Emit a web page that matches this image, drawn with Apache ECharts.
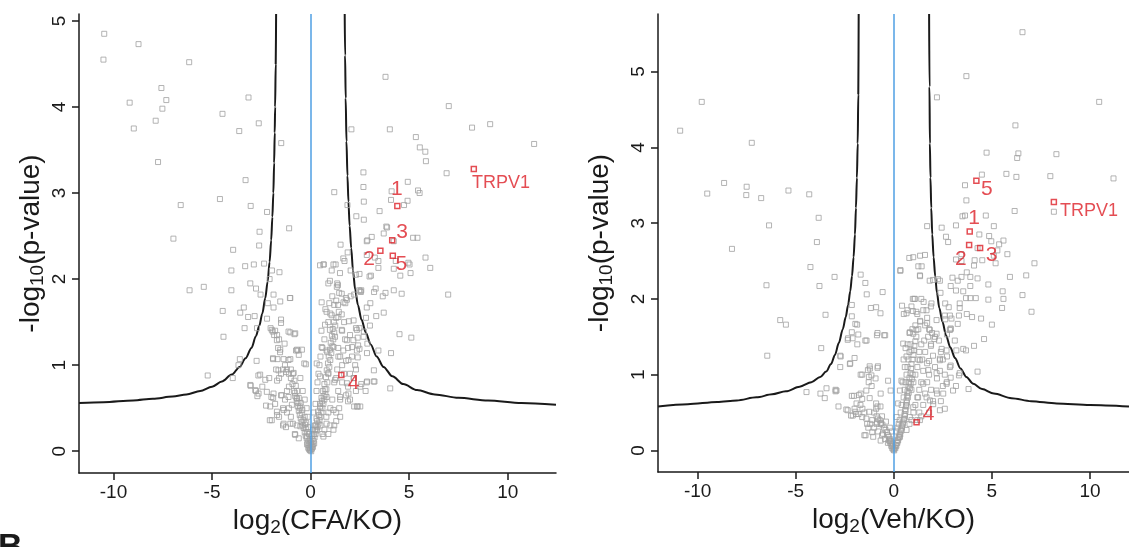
<!DOCTYPE html>
<html>
<head>
<meta charset="utf-8">
<script src="https://cdn.jsdelivr.net/npm/echarts@6/dist/echarts.min.js"></script>
<style>
  html, body { margin: 0; padding: 0; background: #fff; }
  #main { width: 1129px; height: 547px; }
</style>
</head>
<body>
<div id="main"></div>
<script>
'use strict';

// ---- data ----
var xTicks = [-10, -5, 0, 5, 10];
var cfaYTicks = [0, 1, 2, 3, 4, 5];
var vehYTicks = [0, 1, 2, 3, 4, 5];
var hitNames = ['1', '2', '3', '4', '5', 'TRPV1'];

// left panel: log2(CFA/KO)
var cfaOuter = [
    [-10.47,4.85],[-10.51,4.55],[-8.73,4.73],[-6.16,4.52],[-7.57,4.22],[-7.32,4.08],[-9.18,4.05],[-7.52,3.98],
    [-7.86,3.84],[-8.97,3.75],[-7.74,3.36],[-3.15,4.11],[-4.47,3.92],[-2.63,3.81],[-3.62,3.72],[-1.49,3.58],
    [-3.30,3.15],[-4.60,2.93],[-6.59,2.86],[-3.04,2.85],[-2.21,2.78],[-6.96,2.47],[-2.59,2.55],[-2.61,2.39],
    [-3.93,2.34],[-1.09,2.59],[-6.14,1.87],[-5.42,1.91],[-4.02,2.10],[-4.02,1.87],[-4.46,1.63],[-4.42,1.33],
    [-3.32,2.15],[-2.88,2.17],[-2.36,2.18],[-3.06,1.95],[-2.77,1.89],[-2.54,1.82],[-2.08,2.00],[-1.96,2.10],
    [-1.58,2.08],[-1.88,1.82],[-2.17,1.72],[-1.88,1.67],[-1.05,1.78],[-3.57,1.61],[-3.39,1.67],[-3.17,1.56],
    [-2.84,1.57],[-2.21,1.54],[-1.50,1.53],[-1.50,1.49],[-3.35,1.43],[-2.72,1.43],[-3.59,1.07],[-3.66,1.00],
    [-2.74,1.05],[-5.22,0.88],[-2.65,0.88],[-3.95,0.85],[-3.04,0.76],[-2.45,0.75],[-2.77,0.70],[-2.70,0.64],
    [-1.99,0.63],[-2.26,0.53],[-2.07,0.36],[-1.70,0.42],[-0.24,1.01],[-0.63,1.17],[-0.60,1.12],[-0.74,1.17],
    [-0.82,1.36],[-1.12,1.39],[-1.32,1.25],[-1.03,1.07],[-1.68,1.07],[-1.90,1.07],[-2.03,1.43],[-1.92,1.39],
    [3.80,4.35],[7.01,4.01],[8.19,3.76],[9.11,3.80],[11.34,3.57],[4.02,3.74],[2.07,3.74],[5.34,3.65],
    [5.54,3.53],[5.82,3.48],[5.85,3.37],[6.90,3.23],[2.68,3.24],[2.68,3.07],[1.20,3.01],[4.11,3.02],
    [4.93,3.13],[5.45,3.03],[5.53,3.00],[4.08,2.92],[4.92,2.91],[4.74,2.86],[2.70,2.90],[1.87,2.86],
    [3.50,2.79],[2.32,2.73],[2.70,2.69],[3.84,2.61],[3.88,2.60],[3.71,2.53],[3.10,2.49],[2.88,2.45],
    [2.85,2.44],[4.22,2.44],[5.20,2.48],[5.42,2.48],[1.52,2.40],[5.83,2.25],[6.07,2.13],[6.98,1.82],
    [2.85,2.28],[3.26,2.25],[3.44,2.21],[3.44,2.13],[4.32,2.21],[4.96,2.19],[5.02,2.17],[4.55,2.04],
    [5.07,2.07],[4.22,2.12],[4.22,1.87],[4.62,1.83],[4.51,1.36],[5.11,1.32],[4.08,1.14],[4.04,0.73],
    [3.24,0.81],[2.85,0.80],[2.57,0.78],[2.79,0.70],[2.39,0.52],[2.21,0.52],[1.90,0.58],[2.30,0.95],
    [3.21,0.94],[2.39,1.09],[3.44,1.17],[2.48,1.19],[2.85,1.67],[3.03,1.72],[3.22,1.85],[3.30,1.89],
    [3.80,1.84],[3.66,1.80],[3.33,1.57],[3.71,1.61],[2.81,1.55],[3.01,1.46],[2.48,1.43],[2.70,1.39],
    [2.30,1.43],[2.39,1.32],[2.88,1.25],[2.41,1.23],[2.17,1.29],[1.94,1.51],[1.43,1.62],[1.58,1.59],
    [1.39,1.70],[1.76,1.72],[1.79,1.78],[1.45,1.84],[1.39,1.93],[0.98,1.98],[1.27,2.17],[0.67,2.17],
    [1.07,2.10],[1.49,2.07],[2.03,2.10],[2.30,2.05],[2.48,2.06],[2.99,2.03],[3.06,2.04],[1.88,2.31],
    [1.72,2.21],[2.46,1.87],[2.57,1.87],[2.52,1.86],[2.55,1.85],[2.21,1.82],[2.03,1.80],[1.67,1.73]
];
var cfaCore = [
    [0,0.02],[0.05,0.05],[-0.05,0.04],[0.1,0.08],[-0.1,0.07],[0.15,0.12],[-0.15,0.1],[0.02,0.1],
    [-0.02,0.14],[0.2,0.16],[-0.2,0.15],[0.25,0.2],[-0.25,0.18],[0.08,0.18],[-0.08,0.2],[0.3,0.24],
    [-0.3,0.22],[0.35,0.28],[-0.35,0.27],[0.12,0.25],[-0.14,0.28],[0.4,0.32],[-0.4,0.3],[0.45,0.36],
    [-0.45,0.34],[0.22,0.3],[-0.22,0.33],[0.5,0.4],[-0.5,0.38],[0.3,0.38],[-0.3,0.4],[0.55,0.45],
    [-0.55,0.42],[0.6,0.5],[-0.6,0.47],[0.38,0.46],[-0.42,0.48],[0.65,0.55],[-0.65,0.52],[0.48,0.55],
    [-0.5,0.56],[0.7,0.6],[-0.7,0.58],[0.55,0.62],[-0.6,0.62],[0.75,0.66],[-0.78,0.64],[0.62,0.7],
    [-0.68,0.7],[0.8,0.72],[-0.85,0.7],[0.7,0.78],[-0.75,0.76],[0.85,0.8],[-0.92,0.78],[0.78,0.86],
    [-0.82,0.82],[0.9,0.9],[-1.0,0.85],[0.82,0.94],[-0.9,0.9],[0.95,0.98],[-1.1,0.9],[0.88,1.02],
    [-1.0,0.95],[1.0,1.06],[-1.2,0.95],[0.92,1.1],[1.05,1.14],[0.98,1.18],[1.1,1.22],[1.02,1.26],
    [1.15,1.3],[1.08,1.34],[1.2,1.38],[1.12,1.42],[1.25,1.46],[1.18,1.5],[1.3,1.55],[0.6,1.2],
    [0.7,1.3],[0.55,1.4],[0.5,1.1],[0.4,0.9],[0.45,1.0],[-0.4,0.7],[-0.3,0.6],[-0.2,0.5],
    [-0.15,0.4],[0.15,0.45],[0.25,0.55],[0.3,0.7],[0.35,0.8],[-1.3,1.0],[-1.4,0.95],[-1.5,0.9],
    [-1.6,0.85],[-1.7,0.82],[-1.3,0.6],[-1.1,0.5],[-1.0,0.4],[-0.9,0.32],[-1.2,0.45],[-1.4,0.5],
    [-1.5,0.65],[-1.2,0.7],[-1.1,0.75],[1.4,1.2],[1.5,1.1],[1.6,1.0],[1.35,0.95],[1.3,0.85],
    [1.2,0.8],[1.4,0.7],[1.5,0.6],[1.1,0.6],[1.0,0.5],[0.9,0.45],[0.8,0.4],[1.2,0.3],
    [1.3,0.35],[-1.6,1.3],[-1.7,1.35],[-1.8,1.4],[-1.65,1.2],[-1.55,1.15],[-1.75,0.95],[-2.1,0.85],
    [-1.9,0.62],[-1.8,0.55],[-1.6,0.4],[-1.4,0.3],[-1.25,0.28],[-0.7,0.3],[-0.8,0.2],[-0.6,0.15],
    [0.6,0.2],[0.7,0.25],[0.9,0.2],[1.0,0.3],[0.5,0.3],[1.6,1.4],[1.7,1.5],[1.75,1.3],
    [2.0,1.35],[1.9,1.2],[2.1,1.1],[1.8,1.05],[1.7,0.9],[2.0,0.9],[2.2,0.85],[1.9,0.75],
    [2.3,0.7],[2.0,0.6],[1.8,0.65],[1.6,0.8],[1.45,0.5],[1.3,0.45],[0.85,1.15],[0.9,1.5],
    [1.0,1.6],[0.75,1.65],[1.2,1.7],[1.3,1.75],[0.95,1.72],[1.1,1.8],[1.35,1.95],
    [0.03,0.0],[-0.03,0.01],[0.07,0.03],[-0.07,0.02],[0.12,0.05],[-0.12,0.04],[0.18,0.09],[-0.18,0.08],
    [0.04,0.07],[-0.04,0.09],[0.1,0.14],[-0.1,0.12],[0.16,0.2],[-0.17,0.22],[0.22,0.25],[-0.24,0.26],
    [0.28,0.3],[-0.28,0.31],[0.33,0.35],[-0.36,0.36],[0.42,0.42],[-0.45,0.44],[0.5,0.5],[-0.55,0.5],
    [0.58,0.58],[-0.62,0.56],[0.66,0.64],[-0.72,0.62],[0.72,0.72],[-0.8,0.68],
    [-1.54,1.74],[-1.03,1.78],[-1.97,1.41],[-1.85,1.35],[-1.71,1.29],[-1.03,1.38],[-0.78,1.37],[-1.54,1.18],
    [-1.91,1.08],[-1.37,1.07],[-1.12,1.06],[-0.69,1.18],[-0.44,1.18],[-0.32,1.02],[-1.63,0.94],[-1.24,0.92],
    [-0.86,0.91],[-0.52,0.85],[-2.56,0.89],[-2.30,0.83],[-3.06,0.77],[-2.81,0.71],[-2.64,0.67],[-2.22,0.69],
    [-1.88,0.67],[-1.46,0.65],[-1.12,0.63],[-0.69,0.61],[-2.05,0.52],[-1.71,0.46],[-1.37,0.48],[-0.95,0.54],
    [-0.52,0.52],[-1.97,0.36],[-1.37,0.32],[-1.03,0.32],[-0.52,0.29],[-0.78,0.19],[-0.19,0.17],
    [0.48,2.16],[0.65,2.17],[1.16,2.17],[1.66,2.24],[0.90,1.95],[1.33,1.91],[1.58,1.83],[1.84,1.76],
    [0.56,1.73],[0.81,1.62],[1.07,1.58],[1.41,1.56],[0.73,1.47],[0.98,1.41],[1.24,1.33],[1.58,1.41],
    [1.84,1.29],[2.18,1.52],[2.35,1.41],[2.69,1.33],[2.10,1.21],[2.35,1.17],[2.86,1.14],[0.56,1.21],
    [0.81,1.17],[1.16,1.21],[1.41,1.10],[1.66,1.17],[1.92,1.06],[2.26,1.00],[0.31,1.02],[0.48,0.87],
    [0.90,0.91],[1.24,0.83],[1.84,0.79],[2.18,0.85],[2.52,0.75],[2.86,0.81],[3.20,0.81],[1.92,0.67],
    [2.35,0.52],[2.52,0.52],[1.50,0.63],[0.81,0.63],[0.48,0.52],[1.16,0.48],[1.50,0.40],[0.81,0.32],
    [0.31,0.25],[0.65,0.17],[1.16,0.25]
];
var cfaHits = [[4.40,2.85],[3.54,2.33],[4.14,2.45],[1.56,0.885],[4.17,2.27],[8.28,3.28]];
var cfaLabelPos = [[4.38,3.04],[2.97,2.23],[4.64,2.55],[2.18,0.79],[4.60,2.17],[8.19,3.12]];
var cfaCurveNeg = [
    [-11.75,0.56],[-10.5,0.57],[-9,0.59],[-8,0.61],[-7,0.635],[-6.3,0.66],[-5.6,0.7],[-5.0,0.75],
    [-4.5,0.81],[-4.0,0.89],[-3.6,0.98],[-3.3,1.08],[-3.0,1.2],[-2.77,1.34],[-2.6,1.46],[-2.45,1.6],
    [-2.3,1.78],[-2.18,1.97],[-2.08,2.2],[-2.0,2.45],[-1.94,2.72],[-1.89,3.0],[-1.85,3.35],[-1.82,3.7],
    [-1.8,4.0],[-1.77,4.5],[-1.75,5.08]
];
var cfaCurvePos = [
    [1.73,5.08],[1.75,4.6],[1.78,4.1],[1.82,3.6],[1.87,3.2],[1.92,2.9],[1.98,2.62],[2.06,2.36],
    [2.15,2.1],[2.26,1.88],[2.4,1.7],[2.58,1.53],[2.8,1.38],[3.05,1.24],[3.35,1.1],[3.7,0.98],
    [4.15,0.87],[4.7,0.78],[5.4,0.71],[6.3,0.66],[7.5,0.62],[9,0.59],[10.7,0.56],[12.45,0.54]
];

// right panel: log2(Veh/KO)
var vehOuter = [
    [6.56,5.52],[3.70,4.94],[2.20,4.66],[10.47,4.60],[-9.79,4.60],[-10.89,4.22],[-7.24,4.06],[6.20,4.29],
    [6.35,3.92],[6.29,3.86],[4.73,3.93],[8.29,3.91],[4.49,3.64],[5.74,3.65],[6.25,3.61],[7.98,3.62],
    [11.20,3.59],[3.63,3.50],[3.70,3.30],[6.16,3.16],[8.16,3.15],[3.50,3.09],[3.63,3.10],[4.69,3.10],
    [1.70,2.96],[2.44,2.94],[3.17,2.97],[4.36,2.85],[4.86,2.83],[5.10,2.96],[2.66,2.82],[2.77,2.75],
    [5.59,2.77],[5.37,2.72],[5.79,2.59],[7.17,2.47],[5.19,2.47],[5.92,2.29],[6.75,2.31],[6.56,2.05],
    [7.02,1.83],[5.52,1.88],[5.55,2.10],[5.59,2.00],[4.97,2.76],[4.51,2.51],[4.82,2.19],[4.82,1.99],
    [4.45,1.74],[5.00,1.66],[4.60,1.47],[4.09,1.38],[3.68,1.32],[4.27,1.04],[3.81,0.81],[3.32,0.99],
    [3.17,0.85],[2.90,1.12],[2.90,0.96],
    [-8.65,3.53],[-9.51,3.39],[-7.50,3.48],[-7.52,3.37],[-6.76,3.33],[-5.37,3.43],[-4.31,3.38],[-6.36,2.97],
    [-3.83,3.07],[-8.25,2.66],[-3.92,2.75],[-4.25,2.42],[-3.02,2.29],[-3.79,2.17],[-6.49,2.18],[-5.79,1.72],
    [-5.50,1.66],[-6.45,1.25],[-3.70,1.35],[-3.48,1.79],[-1.69,2.32],[-1.45,2.21],[-1.38,2.06],[-0.57,2.09],
    [-1.17,1.88],[-0.90,1.89],[-0.68,1.81],[-2.14,1.92],[-2.14,1.77],[-1.87,1.66],[-2.14,1.56],[-2.33,1.48],
    [-1.81,1.53],[-1.45,1.45],[-2.73,1.25],[-2.73,1.10],[-2.24,1.14],[-2.00,1.22],[-1.23,1.11],[-0.81,1.11],
    [-1.69,1.00],[-1.14,0.99],[-1.28,0.90],[-1.40,0.79],[-1.78,0.73],[-2.14,0.72],[-2.97,0.80],[-2.97,0.78],
    [-3.43,0.82],[-3.74,0.75],[-4.45,0.77],[-3.52,0.69],[-2.82,0.58],[-2.42,0.54],[-1.96,0.51],[-2.09,0.46],
    [-1.23,0.69],[-0.90,0.62],[-0.68,0.58],[-1.50,0.20],[-0.93,0.95],[-0.86,1.52],[-0.49,1.52],[-1.32,1.06],
    [-0.68,0.35],[-1.96,1.67],[-2.35,1.46],[-2.10,1.48],[-1.39,1.45],[-0.83,1.55],[-0.44,1.52],[-1.86,1.40],
    [-2.71,1.24],[-2.22,1.15],[-1.22,1.08],[-0.83,1.09],[-1.61,1.00],[-1.27,0.97],[-0.29,0.92],[-1.13,0.85],
    [-2.92,0.79],[-1.61,0.68],[-2.03,0.72],[-1.69,0.75],[-0.67,0.75],[-0.16,0.79],[-2.35,0.53],[-1.92,0.48],
    [-2.18,0.46],[-1.25,0.51],[-0.83,0.58],[-1.61,0.44],[-1.36,0.35],[-0.86,0.37],[-1.44,0.20],[-0.67,0.13],
    [-1.10,0.24],
    [0.33,2.37],[0.79,2.54],[1.34,2.57],[1.25,2.43],[1.34,2.30],[0.97,2.00],[1.83,2.24],[2.25,2.26],
    [2.38,2.08],[2.80,1.89],[2.86,1.78],[2.99,2.28],[3.26,2.24],[3.45,2.29],[3.72,2.35],[3.90,2.29],
    [4.27,2.27],[3.90,2.17],[3.54,2.10],[3.68,2.01],[3.36,1.94],[3.36,1.88],[3.90,2.01],[4.18,2.01],
    [3.32,1.78],[3.72,1.80],[3.99,1.76],[3.26,1.67],[2.90,1.60],[2.71,1.53],[3.54,1.34],[2.44,1.34],
    [2.35,1.21],[1.80,1.18],[2.71,1.24],[2.07,1.47],[1.89,1.38],[0.42,1.91],[0.51,1.80],[0.97,1.84],
    [1.52,1.96],[1.89,1.90],[1.34,1.71],[1.70,1.68],[2.62,1.73],[2.62,1.94],[2.90,1.61],[4.12,2.51],
    [4.09,2.44],[5.10,2.57],[5.28,2.64],[3.45,2.59],[4.27,2.67],[3.17,2.52],[3.45,2.50],[3.17,2.11],
    [2.90,2.17]
];
var vehCore = [
    [0,0.02],[0.05,0.04],[-0.05,0.05],[0.1,0.07],[-0.1,0.08],[0.15,0.1],[-0.15,0.12],[0.2,0.14],
    [-0.2,0.15],[0.25,0.18],[-0.25,0.18],[0.3,0.22],[-0.3,0.2],[0.35,0.27],[-0.35,0.24],[0.4,0.32],
    [-0.42,0.27],[0.45,0.37],[-0.5,0.3],[0.5,0.42],[-0.58,0.34],[0.55,0.48],[-0.65,0.36],[0.58,0.54],
    [-0.72,0.4],[0.62,0.6],[-0.8,0.42],[0.65,0.66],[-0.88,0.45],[0.68,0.72],[0.7,0.78],[0.75,0.84],
    [0.78,0.9],[0.8,0.96],[0.85,1.02],[0.88,1.08],[0.9,1.14],[0.95,1.2],[1.0,1.26],[1.02,1.32],
    [1.05,1.38],[1.1,1.44],[1.15,1.5],[0.5,0.7],[0.55,0.8],[0.6,0.9],[0.65,1.0],[0.7,1.1],
    [0.75,1.2],[0.8,1.3],[0.85,1.4],[0.9,0.8],[1.0,0.9],[1.1,1.0],[1.2,1.1],[1.25,1.2],
    [1.3,1.3],[1.4,1.4],[1.45,1.2],[1.5,1.05],[1.4,0.9],[1.3,0.8],[1.2,0.7],[1.1,0.6],
    [1.0,0.5],[0.9,0.4],[0.8,0.35],[1.5,0.6],[1.6,0.75],[1.7,0.9],[1.8,1.0],[1.7,1.15],
    [1.6,1.3],[1.55,1.45],[1.75,1.5],[1.9,1.4],[2.0,1.25],[2.1,1.1],[2.2,0.95],[1.9,0.8],
    [2.0,0.65],[1.3,0.5],[1.2,0.4],[1.4,0.45],[0.4,0.6],[0.45,0.9],[0.35,0.5],[0.3,0.4],
    [0.2,0.3],[0.12,0.25],[0.25,0.35],[-0.1,0.25],[-0.2,0.3],[-0.4,0.38],[-0.6,0.45],[-0.9,0.55],
    [-1.0,0.5],[-1.1,0.4],[-1.2,0.35],[-1.3,0.3],[-1.0,0.3],[-0.8,0.25],[-0.6,0.2],[-0.45,0.15],
    [-0.3,0.1],[-1.4,0.42],[-1.5,0.5],[-1.6,0.55],[-1.7,0.6],[-1.9,0.62],[-2.0,0.55],[-1.8,0.48],
    [0.5,1.2],[0.6,1.35],[0.7,1.4],[0.8,1.55],[0.95,1.6],[1.1,1.65],[1.25,1.6],[1.35,1.7],
    [1.2,1.8],[1.5,1.85],[1.6,1.65],[0.9,1.9],[1.05,2.0],[0.7,1.85],[1.4,2.0],[1.7,1.75],
    [1.8,1.6],[1.95,1.55],[2.1,1.5],[2.3,1.45],[2.4,1.3],[2.5,1.2],[2.35,1.05],[2.6,1.0],
    [2.7,0.9],[2.5,0.85],[2.2,0.75],[2.4,0.65],[2.6,0.55],[1.8,0.5],
    [0.02,0.0],[-0.02,0.01],[0.08,0.03],[-0.08,0.03],[0.13,0.06],[-0.13,0.06],[0.18,0.1],[-0.18,0.1],
    [0.22,0.13],[-0.24,0.13],[0.28,0.17],[0.33,0.21],[0.38,0.26],[0.42,0.3],[0.47,0.35],[0.52,0.4],
    [0.56,0.46],[0.6,0.52],[0.64,0.58],[0.67,0.63],[0.72,0.7],[0.76,0.76],[0.82,0.82],[0.86,0.88],
    [0.92,0.94],[0.96,1.0],
    [0.99,2.55],[1.59,2.58],[1.42,2.43],[0.34,2.38],[1.33,2.31],[2.00,2.25],[2.35,2.24],[1.07,2.00],
    [1.15,1.83],[1.67,1.85],[1.92,1.94],[0.65,1.81],[2.18,1.72],[2.60,1.78],[2.94,1.74],[1.84,1.59],
    [2.18,1.54],[2.86,1.59],[0.82,1.56],[1.15,1.59],[3.11,1.45],[2.69,1.32],[3.19,1.32],[2.35,1.19],
    [2.86,1.10],[3.36,1.02],[2.18,1.02],[2.69,0.88],[2.18,0.79],[2.52,0.75],[3.02,0.79],[1.84,0.66],
    [2.35,0.53],[0.99,1.54],[0.48,1.41],[0.65,1.24],[0.56,1.10],[0.39,0.92],[0.31,0.79],[0.22,0.62],
    [0.14,0.44],[0.90,1.32],[1.33,1.19],[1.76,1.06],[1.50,0.88],[1.24,0.70],[0.99,0.57],[1.67,0.70],
    [2.01,0.61],[0.82,0.44],[1.33,0.40],[0.65,0.27],[0.31,0.18],[-0.21,0.13],[-0.55,0.22],[-0.88,0.35],
    [-1.05,0.18]
];
var vehHits = [[3.87,2.89],[3.84,2.71],[4.40,2.67],[1.16,0.37],[4.21,3.56],[8.16,3.28]];
var vehLabelPos = [[4.09,3.06],[3.42,2.53],[4.98,2.58],[1.77,0.48],[4.74,3.45],[8.47,3.16]];
var vehCurveNeg = [
    [-12.02,0.58],[-10.5,0.61],[-9,0.64],[-8,0.66],[-7,0.7],[-6.2,0.74],[-5.5,0.78],[-4.8,0.84],
    [-4.2,0.9],[-3.75,0.97],[-3.45,1.04],[-3.2,1.14],[-3.0,1.26],[-2.8,1.42],[-2.6,1.6],[-2.45,1.76],
    [-2.33,1.92],[-2.22,2.1],[-2.13,2.3],[-2.05,2.55],[-1.98,2.85],[-1.93,3.2],[-1.88,3.6],[-1.84,4.05],
    [-1.81,4.7],[-1.79,5.76]
];
var vehCurvePos = [
    [1.8,5.76],[1.82,4.8],[1.84,4.05],[1.87,3.6],[1.91,3.2],[1.96,2.85],[2.03,2.55],[2.11,2.3],
    [2.2,2.08],[2.32,1.88],[2.48,1.7],[2.66,1.52],[2.88,1.36],[3.12,1.22],[3.4,1.08],[3.7,0.97],
    [4.05,0.88],[4.5,0.81],[5.1,0.75],[6,0.69],[7,0.65],[8.3,0.62],[10,0.6],[11.99,0.58]
];

// ---- styling ----
var FONT = '"Liberation Sans", Arial, sans-serif';
var INK = '#1a1a1a';
var GRAY = '#a0a0a0';
var RED = '#dd2128';
var BLUE = '#4f9fe3';

function nameRich() {
    return {
        t: { fontFamily: FONT, fontSize: 28, color: INK, lineHeight: 32 },
        s: { fontFamily: FONT, fontSize: 19, color: INK, lineHeight: 10, verticalAlign: 'bottom' }
    };
}

function xAxisFor(gridIndex, min, max, ratio) {
    return {
        type: 'value', gridIndex: gridIndex, min: min, max: max,
        axisLine: { onZero: false, lineStyle: { color: INK, width: 1.5 } },
        axisTick: { length: 7, customValues: xTicks, lineStyle: { color: INK, width: 1.5 } },
        axisLabel: { customValues: xTicks, fontSize: 19, color: INK, fontFamily: FONT, margin: 10 },
        splitLine: { show: false },
        name: '{t|log}{s|2}{t|(' + ratio + ')}',
        nameLocation: 'middle', nameGap: 31,
        nameTextStyle: { rich: nameRich() }
    };
}

function yAxisFor(gridIndex, min, max, ticks, gap) {
    return {
        type: 'value', gridIndex: gridIndex, min: min, max: max,
        axisLine: { onZero: false, lineStyle: { color: INK, width: 1.5 } },
        axisTick: { length: 7, customValues: ticks, lineStyle: { color: INK, width: 1.5 } },
        axisLabel: { customValues: ticks, fontSize: 19, color: INK, fontFamily: FONT, margin: 10, rotate: 90 },
        splitLine: { show: false },
        name: '{t|-log}{s|10}{t|(p-value)}',
        nameLocation: 'middle', nameGap: gap, nameRotate: 90,
        nameTextStyle: { rich: nameRich() }
    };
}

function curve(idx, data, withZeroLine) {
    var s = {
        type: 'line', xAxisIndex: idx, yAxisIndex: idx, data: data,
        showSymbol: false, silent: true, z: 2,
        smooth: 0.3, smoothMonotone: 'x',
        lineStyle: { color: INK, width: 2 }
    };
    if (withZeroLine) {
        s.markLine = {
            silent: true, symbol: 'none', label: { show: false },
            lineStyle: { color: BLUE, width: 1.5, type: 'solid' },
            data: [{ xAxis: 0 }]
        };
    }
    return s;
}

function dots(idx, data, color, width, z) {
    return {
        type: 'scatter', xAxisIndex: idx, yAxisIndex: idx, data: data,
        symbol: 'rect', symbolSize: 5, silent: true, z: z,
        itemStyle: { color: 'rgba(0,0,0,0)', borderColor: color, borderWidth: width }
    };
}

function labels(idx, pos) {
    var items = pos.map(function (p, i) {
        var item = { value: p, name: hitNames[i] };
        if (hitNames[i] === 'TRPV1') {
            item.label = { align: 'left', fontSize: 18 };
        }
        return item;
    });
    return {
        type: 'scatter', xAxisIndex: idx, yAxisIndex: idx, data: items,
        symbolSize: 0, silent: true, z: 6,
        label: {
            show: true, position: 'inside', formatter: '{b}',
            color: RED, fontSize: 21, fontFamily: FONT
        }
    };
}

var chart = echarts.init(document.getElementById('main'), null, { renderer: 'canvas' });

chart.setOption({
    animation: false,
    backgroundColor: '#fff',
    grid: [
        { left: 79, top: 14, width: 477, height: 459 },
        { left: 658, top: 14, width: 471, height: 458 }
    ],
    xAxis: [
        xAxisFor(0, -11.75, 12.45, 'CFA/KO'),
        xAxisFor(1, -12.02, 11.99, 'Veh/KO')
    ],
    yAxis: [
        yAxisFor(0, -0.253, 5.08, cfaYTicks, 32),
        yAxisFor(1, -0.285, 5.76, vehYTicks, 42)
    ],
    graphic: [
        { type: 'text', left: -2, top: 531, style: { text: 'B', font: 'bold 34px ' + FONT, fill: INK } }
    ],
    series: [
        curve(0, cfaCurveNeg, true),
        curve(0, cfaCurvePos, false),
        dots(0, cfaOuter.concat(cfaCore), GRAY, 1, 3),
        dots(0, cfaHits, RED, 1.5, 5),
        labels(0, cfaLabelPos),

        curve(1, vehCurveNeg, true),
        curve(1, vehCurvePos, false),
        dots(1, vehOuter.concat(vehCore), GRAY, 1, 3),
        dots(1, vehHits, RED, 1.5, 5),
        labels(1, vehLabelPos)
    ]
});
</script>
</body>
</html>
